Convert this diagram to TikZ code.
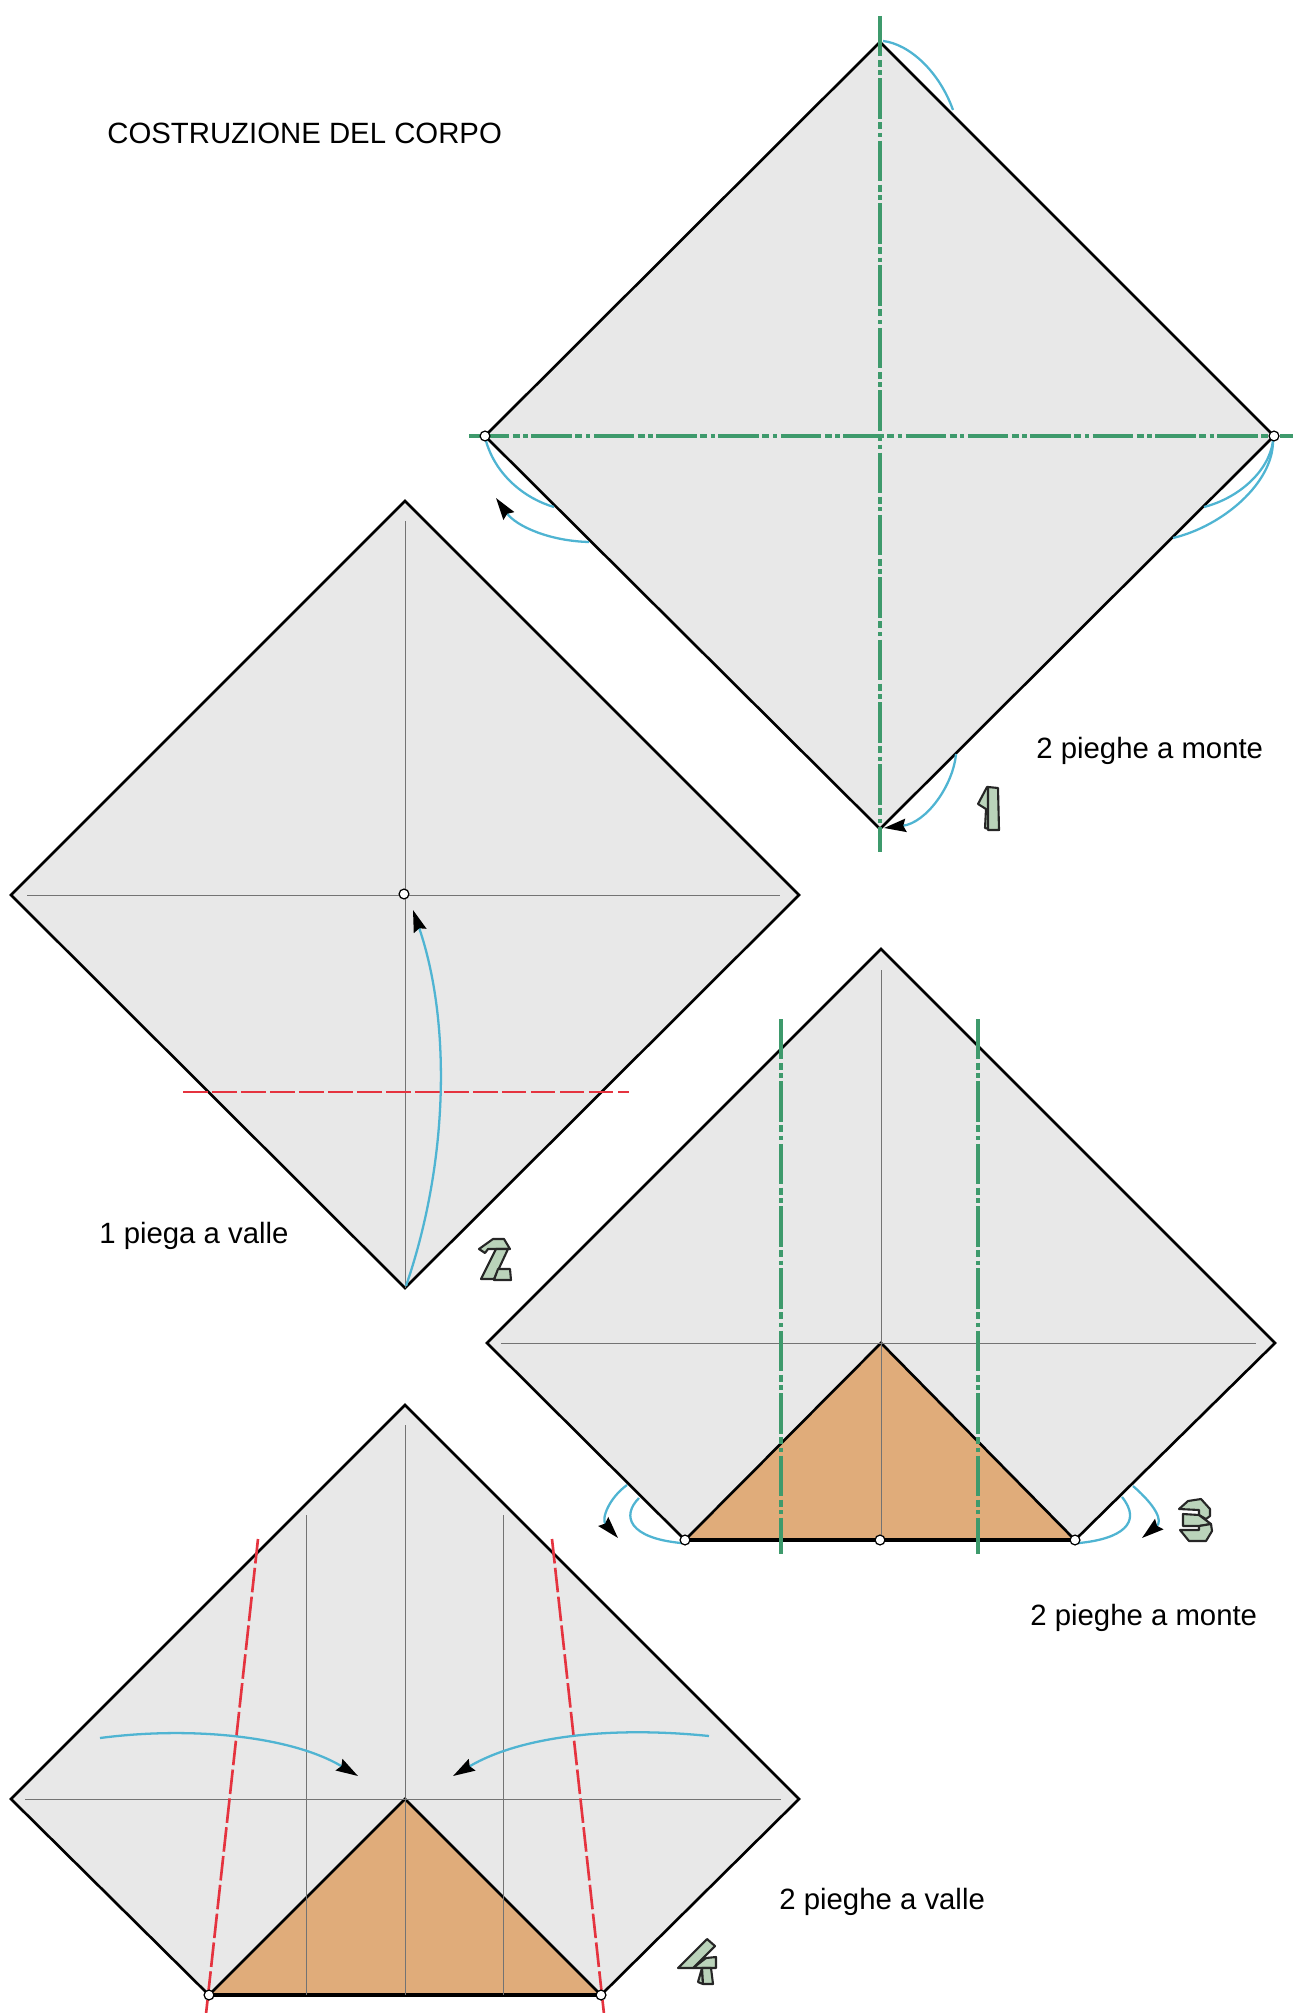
\documentclass[tikz,border=0pt]{standalone}
\usepackage{fontspec}
\setmainfont{Liberation Sans}
\usetikzlibrary{arrows.meta}
\definecolor{sheetgray}{HTML}{E8E8E8}
\definecolor{flaporange}{HTML}{E0AC7A}
\definecolor{montegreen}{HTML}{3E9A6C}
\definecolor{vallered}{HTML}{E5333F}
\definecolor{movearrow}{HTML}{4FB4D2}
\definecolor{stepgreen}{HTML}{BAD3BA}
\begin{document}
\begin{tikzpicture}[
    x=0.02cm,y=-0.02cm,xshift=0.02cm,yshift=-0.02cm,
    sheet/.style={draw=black,fill=sheetgray,line width=1.5pt,line join=miter},
    flap/.style={draw=black,fill=flaporange,line width=1.5pt},
    flapedge/.style={draw=black,line width=2.1pt},
    crease/.style={draw=black!55,line width=0.55pt},
    monte/.style={draw=montegreen,line width=1.85pt,dash pattern=on 23pt off 2pt on 4pt off 2pt on 2.5pt off 2pt},
    valle/.style={draw=vallered,line width=1.5pt,dash pattern=on 14pt off 2.5pt},
    move/.style={draw=movearrow,line width=1.3pt},
    movetip/.style={move,-{Stealth[length=12.5pt,width=7.5pt,inset=1.5pt,color=black]}},
    pivot/.style={circle,draw=black,fill=white,line width=0.7pt,inner sep=0pt,minimum size=5.6pt},
    caption/.style={anchor=west,inner sep=0pt,font=\fontsize{16.7}{20}\selectfont},
    stepnum/.style={draw=black!85,fill=stepgreen,line width=1.2pt,line join=round}
  ]
  \useasboundingbox (-1,-1) rectangle (1294,2012);

  % primo foglio
  \coordinate (top1) at (879,41);
  \coordinate (left1) at (484,435);
  \coordinate (right1) at (1273,435);
  \coordinate (bot1) at (879,828);
  \draw[sheet] (top1) -- (right1) -- (bot1) -- (left1) -- cycle;
  \draw[monte] (879,15) -- (879,851);
  \draw[monte] (468,435) -- (1292,435);
  \draw[move] (882,40) .. controls (908,43) and (938,70) .. (952,109);
  \draw[move] (485,440) .. controls (495,475) and (525,498) .. (553,506);
  \draw[movetip] (588,541) .. controls (548,540) and (515,525) .. (495,497);
  \draw[move] (1272,440) .. controls (1268,470) and (1238,497) .. (1203,506);
  \draw[move] (1272,440) .. controls (1272,482) and (1222,525) .. (1172,537);
  \draw[movetip] (955,753) .. controls (952,785) and (925,822) .. (883,827);
  \node[pivot] (pivotl1) at (left1) {};
  \node[pivot] (pivotr1) at (right1) {};

  % secondo foglio
  \coordinate (top2) at (404,500);
  \coordinate (left2) at (10,894);
  \coordinate (right2) at (798,894);
  \coordinate (bot2) at (404,1287);
  \draw[sheet] (top2) -- (right2) -- (bot2) -- (left2) -- cycle;
  \draw[crease] (26,894) -- (779,894);
  \draw[crease] (404,520) -- (bot2);
  \draw[valle] (182,1091) -- (628,1091);
  \draw[movetip] (405,1285) .. controls (448,1160) and (450,1020) .. (412,909);
  \node[pivot] (pivotc2) at (403,893) {};

  % terzo foglio
  \coordinate (top3) at (880,948);
  \coordinate (left3) at (486,1342);
  \coordinate (right3) at (1274,1342);
  \coordinate (botl3) at (684,1539);
  \coordinate (botr3) at (1074,1539);
  \coordinate (cen3) at (880,1342);
  \draw[sheet] (top3) -- (right3) -- (botr3) -- (botl3) -- (left3) -- cycle;
  \draw[flap] (botl3) -- (cen3) -- (botr3) -- cycle;
  \draw[flapedge] (botl3) -- (botr3);
  \draw[crease] (500,1342) -- (1255,1342);
  \draw[crease] (880,969) -- (880,1539);
  \draw[monte] (780,1018) -- (780,1553);
  \draw[monte] (977,1018) -- (977,1553);
  \draw[move] (638,1497) .. controls (620,1515) and (628,1537) .. (680,1542);
  \draw[movetip] (626,1484) .. controls (608,1497) and (600,1518) .. (617,1537);
  \draw[move] (1121,1496) .. controls (1142,1522) and (1120,1538) .. (1078,1542);
  \draw[movetip] (1132,1485) .. controls (1155,1505) and (1162,1520) .. (1141,1537);
  \node[pivot] (pivotl3) at (botl3) {};
  \node[pivot] (pivotm3) at (879,1539) {};
  \node[pivot] (pivotr3) at (botr3) {};

  % quarto foglio
  \coordinate (top4) at (404,1404);
  \coordinate (left4) at (10,1798);
  \coordinate (right4) at (798,1798);
  \coordinate (botl4) at (208,1994);
  \coordinate (botr4) at (600,1994);
  \coordinate (cen4) at (404,1798);
  \draw[sheet] (top4) -- (right4) -- (botr4) -- (botl4) -- (left4) -- cycle;
  \draw[flap] (botl4) -- (cen4) -- (botr4) -- cycle;
  \draw[flapedge] (botl4) -- (botr4);
  \draw[crease] (24,1798) -- (780,1798);
  \draw[crease] (404,1424) -- (404,1994);
  \draw[crease] (305,1514) -- (305,1994);
  \draw[crease] (502,1514) -- (502,1994);
  \draw[valle] (257,1538) -- (205,2013);
  \draw[valle] (551,1538) -- (603,2013);
  \draw[movetip] (99,1737) .. controls (190,1725) and (290,1735) .. (357,1775);
  \draw[movetip] (708,1735) .. controls (610,1725) and (520,1735) .. (452,1775);
  \node[pivot] (pivotl4) at (botl4) {};
  \node[pivot] (pivotr4) at (botr4) {};

  % numeri dei passi
  \draw[stepnum] (986,786) -- (977,803) -- (985,808) -- (984,827) -- (988,828) -- (987,786) -- cycle;
  \draw[stepnum] (987,786) -- (997,787) -- (998,829) -- (987,829) -- cycle;

  \draw[stepnum] (478,1248) -- (492,1238) -- (503,1238) -- (509,1248) -- (487,1248) -- (484,1252) -- cycle;
  \draw[stepnum] (495,1248) -- (507,1248) -- (493,1278) -- (480,1278) -- cycle;
  \draw[stepnum] (497,1268) -- (509,1268) -- (510,1279) -- (493,1279) -- cycle;

  \draw[stepnum] (1178,1508) -- (1187,1500) -- (1200,1498) -- (1209,1508) -- (1209,1515) -- (1205,1518) -- (1198,1514) -- (1198,1509) -- cycle;
  \draw[stepnum] (1182,1513) -- (1198,1514) -- (1210,1523) -- (1198,1525) -- (1182,1525) -- cycle;
  \draw[stepnum] (1179,1529) -- (1198,1529) -- (1198,1525) -- (1210,1523) -- (1211,1530) -- (1205,1540) -- (1188,1540) -- cycle;

  \draw[stepnum] (697,1981) -- (701,1967) -- (702,1983) -- cycle;
  \draw[stepnum] (692,1967) -- (705,1957) -- (715,1956) -- (715,1967) -- cycle;
  \draw[stepnum] (701,1967) -- (710,1967) -- (712,1983) -- (702,1983) -- cycle;
  \draw[stepnum] (677,1967) -- (706,1938) -- (714,1945) -- (692,1967) -- cycle;

  % testi
  \node[caption] (title) at (106,132) {COSTRUZIONE DEL CORPO};
  \node[caption] (cap1) at (1035,750) {2 pieghe a monte};
  \node[caption] (cap2) at (98,1235) {1 piega a valle};
  \node[caption] (cap3) at (1029,1617) {2 pieghe a monte};
  \node[caption] (cap4) at (778,1901) {2 pieghe a valle};
\end{tikzpicture}
\end{document}
